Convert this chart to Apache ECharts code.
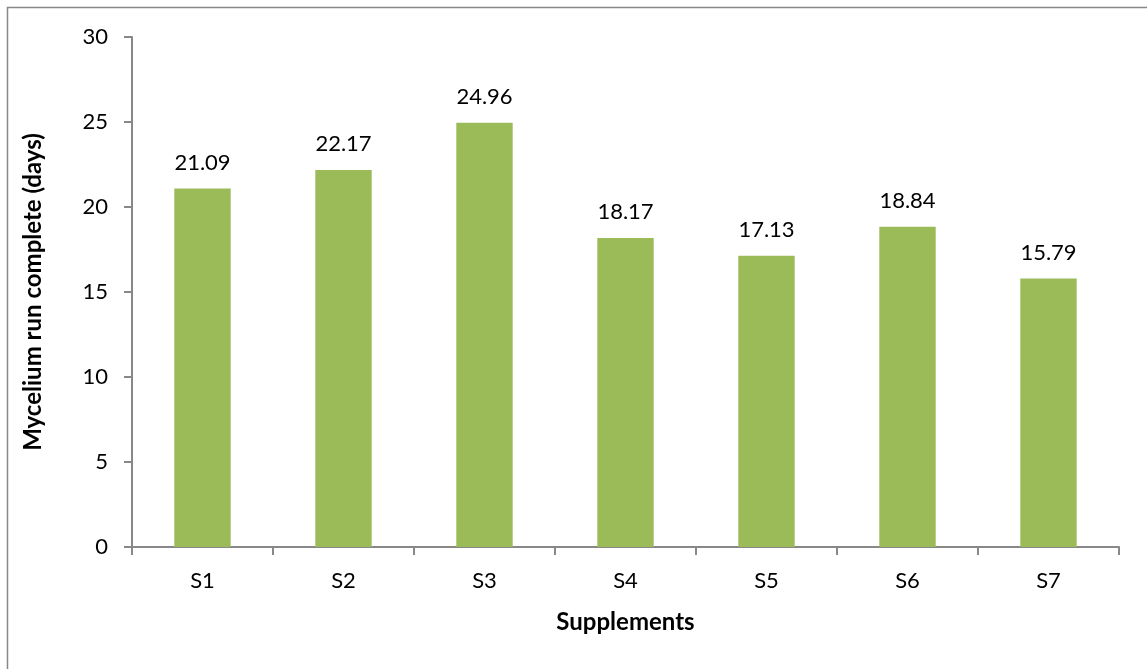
<!DOCTYPE html>
<html><head><meta charset="utf-8">
<script src="https://cdn.jsdelivr.net/npm/echarts@6/dist/echarts.min.js"></script>
<style>html,body{margin:0;padding:0;background:#fff}#c{width:1147px;height:669px}</style>
</head><body><div id="c"></div>
<script>
const categories = ['S1','S2','S3','S4','S5','S6','S7'];
const values = [21.09, 22.17, 24.96, 18.17, 17.13, 18.84, 15.79];
const yTicks = [0, 5, 10, 15, 20, 25, 30];
const chart = echarts.init(document.getElementById('c'));
const F = 'Lato, "Open Sans", sans-serif';
chart.setOption({
  animation: false,
  graphic: [{type:'rect', shape:{x:7.5,y:7.5,width:1300,height:800}, style:{fill:'none',stroke:'#878787',lineWidth:1.5}, silent:true}],
  grid: {left:132, right:28, top:37, bottom:122},
  xAxis: {
    type:'category', data:categories,
    axisLine:{lineStyle:{color:'#888',width:2}},
    axisTick:{show:true, length:8, lineStyle:{color:'#888',width:2}},
    axisLabel:{color:'#000', fontSize:22, fontFamily:F, margin:23},
    name:'Supplements', nameLocation:'middle', nameGap:63,
    nameTextStyle:{color:'#000', fontSize:24, fontWeight:'bold', fontFamily:F}
  },
  yAxis: {
    type:'value', min:yTicks[0], max:yTicks[yTicks.length-1], interval:5,
    splitLine:{show:false},
    axisLine:{show:true, lineStyle:{color:'#888',width:2}},
    axisTick:{show:true, length:8, lineStyle:{color:'#888',width:2}},
    axisLabel:{color:'#000', fontSize:22, fontFamily:F, margin:24},
    name:'Mycelium run complete (days)', nameLocation:'middle', nameGap:87,
    nameTextStyle:{color:'#000', fontSize:24, fontWeight:'bold', fontFamily:F}
  },
  series: [{
    type:'bar', data:values, barWidth:'40%',
    itemStyle:{color:'#9BBB59'},
    label:{show:true, position:'top', distance:15, color:'#000', fontSize:22, fontFamily:F,
      formatter:p=>p.value.toFixed(2)}
  }]
});
</script></body></html>
